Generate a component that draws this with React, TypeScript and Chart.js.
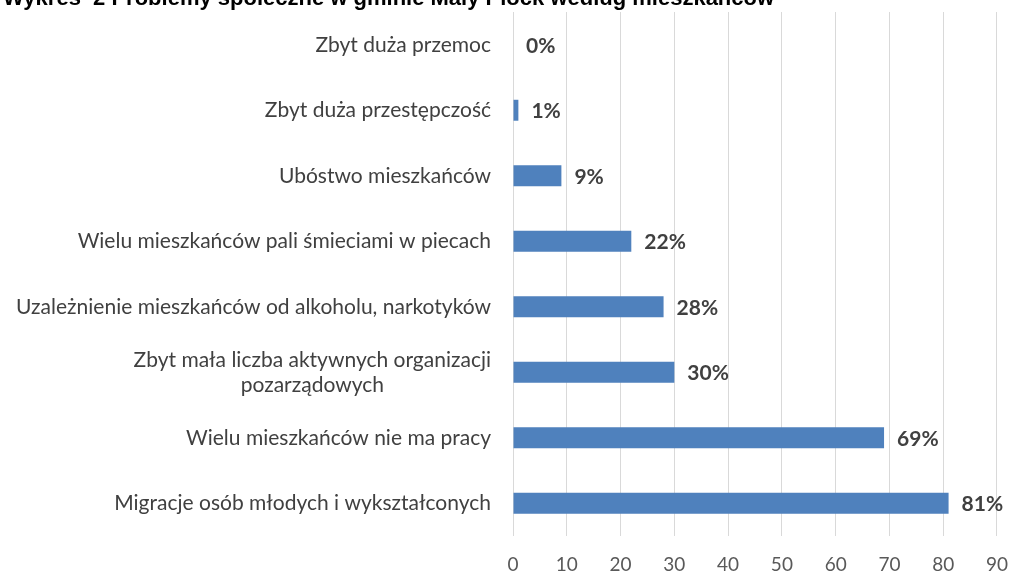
import React, { useEffect, useRef } from "react";
import { Chart, registerables } from "chart.js";

Chart.register(...registerables);

const TITLE = "Wykres  2 Problemy społeczne w gminie Mały Płock według mieszkańców";
const categories: string[][] = [
  ["Zbyt duża przemoc"],
  ["Zbyt duża przestępczość"],
  ["Ubóstwo mieszkańców"],
  ["Wielu mieszkańców pali śmieciami w piecach"],
  ["Uzależnienie mieszkańców od alkoholu, narkotyków"],
  ["Zbyt mała liczba aktywnych organizacji", "pozarządowych"],
  ["Wielu mieszkańców nie ma pracy"],
  ["Migracje osób młodych i wykształconych"],
];
const values: number[] = [0, 1, 9, 22, 28, 30, 69, 81];
const xTicks: number[] = [0, 10, 20, 30, 40, 50, 60, 70, 80, 90];

const LABEL_FONT = '21px Lato, sans-serif';

const customDraw = {
  id: "customDraw",
  afterDraw(chart: any) {
    const ctx = chart.ctx;
    const y = chart.scales.y;
    ctx.save();
    // title (clipped at top)
    ctx.font = 'bold 22px "Liberation Sans", Arial, sans-serif';
    ctx.fillStyle = "#000000";
    ctx.textAlign = "left";
    ctx.textBaseline = "alphabetic";
    ctx.fillText(TITLE, 3, 5);
    // category labels
    ctx.font = LABEL_FONT;
    ctx.fillStyle = "#404040";
    ctx.textBaseline = "middle";
    const right = 491;
    categories.forEach((lines, i) => {
      const cy = y.getPixelForValue(i);
      const widths = lines.map((l) => ctx.measureText(l).width);
      const maxW = Math.max(...widths);
      const lh = 25;
      const startY = cy - ((lines.length - 1) * lh) / 2;
      lines.forEach((l, k) => {
        ctx.textAlign = "center";
        ctx.fillText(l, right - maxW / 2, startY + k * lh);
      });
    });
    // data labels
    ctx.font = 'bold 21px Lato, sans-serif';
    ctx.fillStyle = "#404040";
    ctx.textAlign = "left";
    const meta = chart.getDatasetMeta(0);
    meta.data.forEach((bar: any, i: number) => {
      ctx.fillText(values[i] + "%", bar.x + 13, bar.y + 1);
    });
    ctx.restore();
  },
};

export default function App() {
  const ref = useRef<HTMLCanvasElement>(null);
  useEffect(() => {
    if (!ref.current) return;
    const chart = new Chart(ref.current, {
      type: "bar",
      data: {
        labels: categories.map((c) => c.join(" ")),
        datasets: [
          {
            data: values,
            backgroundColor: "#4f81bd",
            borderWidth: 0,
            barPercentage: 0.32,
            categoryPercentage: 1,
          },
        ],
      },
      options: {
        indexAxis: "y",
        responsive: false,
        animation: false,
        layout: { padding: { top: 12, right: 12, left: 0, bottom: 0 } },
        plugins: { legend: { display: false }, tooltip: { enabled: false }, title: { display: false } },
        scales: {
          x: {
            min: 0,
            max: 90,
            afterBuildTicks(scale: any) {
              scale.ticks = xTicks.map((v) => ({ value: v }));
            },
            grid: {
              color: "#d9d9d9",
              lineWidth: 1,
              drawTicks: true,
              tickLength: 16,
              tickColor: "rgba(0,0,0,0)",
            },
            border: { display: false },
            ticks: {
              color: "#595959",
              font: { family: "Lato, sans-serif", size: 19 },
              padding: 1,
            },
            afterFit(scale: any) {
              scale.height = 35;
            },
          },
          y: {
            grid: { display: false },
            border: { display: false },
            ticks: { display: false },
            afterFit(scale: any) {
              scale.width = 513;
            },
          },
        },
      },
      plugins: [customDraw],
    });
    return () => chart.destroy();
  }, []);
  return (
    <div style={{ position: "fixed", left: 0, top: 0, width: 1009, height: 571, background: "#fff" }}>
      <canvas ref={ref} width={1009} height={571} style={{ display: "block" }} />
    </div>
  );
}
